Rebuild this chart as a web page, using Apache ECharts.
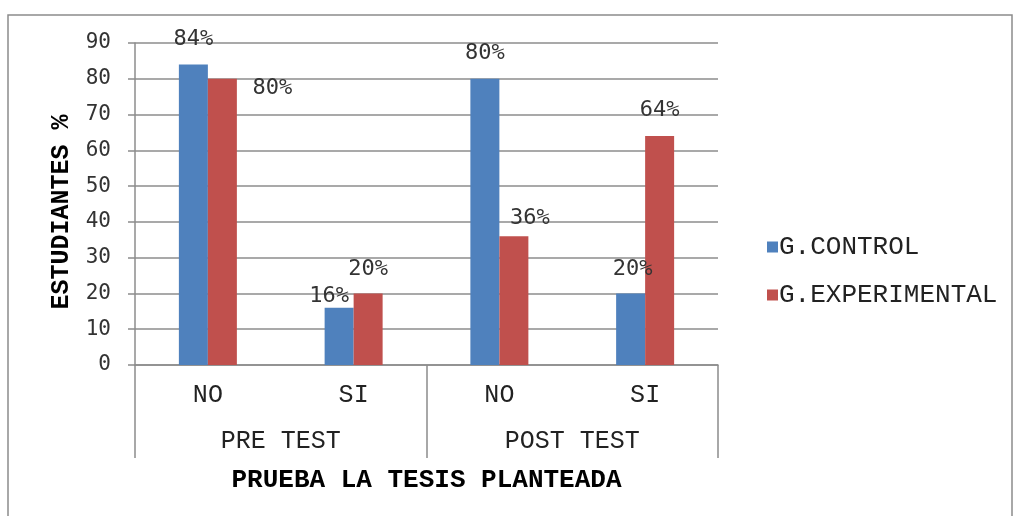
<!DOCTYPE html>
<html>
<head>
<meta charset="utf-8">
<script src="https://cdn.jsdelivr.net/npm/echarts@6/dist/echarts.min.js"></script>
<style>
  html, body { margin: 0; padding: 0; background: #fff; }
  #chart { width: 1016px; height: 516px; }
</style>
</head>
<body>
<div id="chart"></div>
<script>
// datos
const categorias = ["NO", "SI", "NO", "SI"];
const grupos = ["PRE TEST", "POST TEST"];
const gControl = [84, 16, 80, 20];
const gExperimental = [80, 20, 36, 64];
const yTicks = { min: 0, max: 90, interval: 10 };

// desplazamiento manual de etiquetas (como en el original)
const offControl = [[0, -14], [-10, 0], [0, -14], [2, -13]];
const offExperimental = [[50, 21], [0, -13], [16, -7], [0, -15]];

const mono = "Liberation Mono";
const nums = "DejaVu Sans Mono";
const gris = "#8c8c8c";

function barData(vals, offs) {
  return vals.map((v, i) => ({
    value: v,
    label: { offset: offs[i] },
  }));
}

const chart = echarts.init(document.getElementById("chart"));
chart.setOption({
  animation: false,
  graphic: [
    {
      type: "rect",
      shape: { x: 8, y: 15, width: 1004, height: 520 },
      style: { fill: "none", stroke: gris, lineWidth: 1.5 },
      silent: true,
    },
  ],
  grid: { left: 135, right: 298, top: 43, bottom: 151 },
  legend: {
    orient: "vertical",
    left: 762,
    top: 229,
    itemWidth: 11,
    itemHeight: 11,
    itemGap: 22,
    icon: "rect",
    textStyle: { fontFamily: mono, fontSize: 26, color: "#222", padding: [0, 0, 0, -4] },
    data: ["G.CONTROL", "G.EXPERIMENTAL"],
  },
  xAxis: [
    {
      type: "category",
      data: categorias,
      axisLine: { lineStyle: { color: gris, width: 1.5 } },
      axisTick: { show: false },
      axisLabel: { fontFamily: mono, fontSize: 25, color: "#222", margin: 18 },
    },
    {
      type: "category",
      data: grupos,
      position: "bottom",
      axisLine: { show: false },
      axisTick: { show: true, length: 93, lineStyle: { color: gris, width: 1.5 } },
      axisLabel: { fontFamily: mono, fontSize: 25, color: "#222", margin: 64 },
      name: "PRUEBA LA TESIS PLANTEADA",
      nameLocation: "middle",
      nameGap: 102,
      nameTextStyle: { fontFamily: mono, fontSize: 26, fontWeight: "bold", color: "#000" },
    },
  ],
  yAxis: {
    type: "value",
    min: yTicks.min,
    max: yTicks.max,
    interval: yTicks.interval,
    name: "ESTUDIANTES %",
    nameLocation: "middle",
    nameGap: 61,
    nameTextStyle: {
      fontFamily: mono,
      fontSize: 25,
      fontWeight: "bold",
      color: "#000",
      padding: [0, 16, 0, 0],
    },
    axisLine: { show: true, lineStyle: { color: gris, width: 1.5 } },
    axisTick: { show: true, length: 7, lineStyle: { color: gris, width: 1.5 } },
    axisLabel: { fontFamily: nums, fontSize: 21, color: "#333", margin: 24 },
    splitLine: { lineStyle: { color: gris, width: 1.5 } },
  },
  series: [
    {
      name: "G.CONTROL",
      type: "bar",
      data: barData(gControl, offControl),
      barWidth: 29,
      barGap: "0%",
      itemStyle: { color: "#4f81bd" },
      label: {
        show: true,
        position: "top",
        distance: 0,
        formatter: "{c}%",
        fontFamily: nums,
        fontSize: 22,
        color: "#333",
      },
    },
    {
      name: "G.EXPERIMENTAL",
      type: "bar",
      data: barData(gExperimental, offExperimental),
      barWidth: 29,
      barGap: "0%",
      itemStyle: { color: "#c0504d" },
      label: {
        show: true,
        position: "top",
        distance: 0,
        formatter: "{c}%",
        fontFamily: nums,
        fontSize: 22,
        color: "#333",
      },
    },
  ],
});
</script>
</body>
</html>
